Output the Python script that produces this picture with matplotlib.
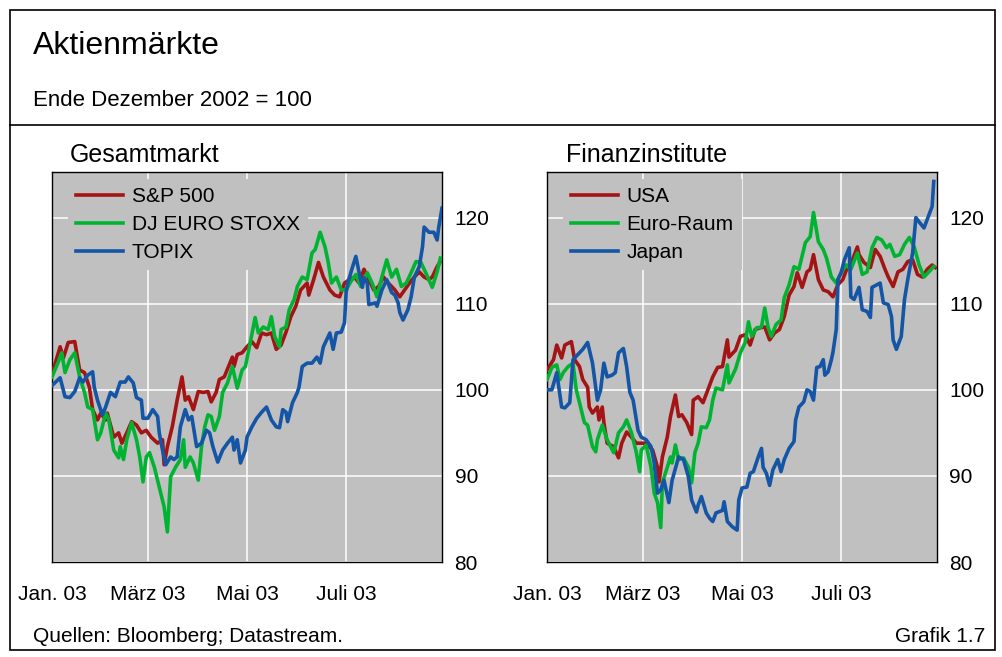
import numpy as np
import matplotlib.pyplot as plt
from matplotlib.patches import Rectangle
from matplotlib.lines import Line2D

plt.rcParams['font.family'] = ['Liberation Sans', 'DejaVu Sans']

# index values, end of December 2002 = 100; days counted from 1 Jan 2003
spx_days = [0, 5, 7, 10, 14, 17, 20, 23, 25, 28, 30, 33, 34, 38, 41, 43, 46, 49, 52, 55,
            58, 61, 65, 68, 69, 71, 74, 77, 80, 82, 84, 87, 90, 93, 96, 98, 101, 103, 106, 111,
            112, 114, 117, 120, 123, 126, 129, 132, 135, 138, 141, 144, 147, 150, 153, 157, 158, 161, 164, 167,
            171, 174, 177, 180, 183, 186, 189, 192, 195, 198, 201, 204, 207, 211, 214, 217, 220, 223, 226, 229,
            232, 234, 237, 239]
spx_vals = [101.8, 105.0, 103.7, 105.5, 105.6, 102.3, 102.0, 100.3, 97.7, 96.5, 97.3, 96.5, 97.3, 94.5, 95.0, 93.8, 95.0, 96.3, 95.9, 95.0,
            95.3, 94.5, 93.8, 94.2, 91.3, 93.4, 95.7, 98.8, 101.5, 98.8, 99.2, 97.7, 99.8, 99.7, 99.8, 98.6, 99.7, 101.2, 101.5, 103.8,
            102.7, 104.1, 104.3, 105.0, 105.6, 104.9, 106.6, 106.4, 106.6, 104.7, 105.2, 106.7, 108.5, 109.7, 111.6, 112.4, 111.0, 112.8, 114.8, 113.1,
            111.6, 111.0, 110.8, 112.4, 112.8, 113.1, 112.4, 114.0, 112.8, 111.6, 112.0, 113.1, 112.4, 111.6, 110.8, 111.6, 112.4, 113.1, 113.7, 113.1,
            112.8, 113.1, 114.3, 114.9]

stoxx_days = [0, 4, 6, 8, 11, 14, 17, 20, 22, 25, 28, 30, 33, 35, 38, 41, 42, 44, 46, 49,
              52, 54, 56, 58, 60, 63, 66, 69, 71, 73, 76, 79, 81, 82, 85, 87, 90, 92, 94, 96,
              98, 100, 103, 105, 108, 111, 114, 117, 119, 122, 125, 127, 130, 133, 135, 137, 140, 141, 144, 146,
              149, 151, 154, 157, 160, 162, 165, 168, 170, 172, 175, 178, 181, 184, 187, 190, 194, 197, 200, 203,
              206, 209, 212, 215, 218, 221, 224, 227, 230, 234, 237, 239]
stoxx_vals = [101.5, 103.3, 104.3, 102.0, 103.5, 104.3, 101.5, 99.7, 98.0, 97.7, 94.2, 95.0, 97.3, 96.5, 93.0, 92.1, 93.4, 91.9, 94.2, 96.2,
              94.2, 92.2, 89.3, 92.2, 92.7, 91.0, 88.7, 86.4, 83.5, 89.9, 91.0, 91.9, 94.2, 91.0, 92.2, 91.5, 89.5, 93.4, 95.7, 97.1,
              96.9, 95.3, 96.9, 99.7, 100.8, 102.7, 100.2, 102.3, 102.7, 105.5, 108.4, 106.6, 107.3, 107.0, 108.5, 106.2, 105.0, 107.0, 107.3, 109.3,
              110.5, 112.0, 113.1, 112.8, 115.9, 116.3, 118.3, 116.6, 114.8, 112.4, 113.1, 111.6, 111.6, 112.6, 113.4, 112.0, 113.6, 112.4, 110.8, 113.1,
              115.1, 113.1, 114.0, 112.0, 112.4, 113.6, 114.9, 114.8, 113.6, 111.9, 113.7, 115.3]

topix_days = [0, 5, 8, 11, 14, 17, 19, 22, 25, 26, 28, 31, 33, 36, 39, 42, 45, 47, 50, 52,
              55, 56, 59, 62, 65, 66, 68, 70, 73, 75, 77, 79, 82, 84, 86, 89, 92, 95, 97, 99,
              102, 105, 108, 111, 112, 114, 116, 119, 120, 123, 126, 129, 132, 135, 138, 140, 142, 144, 145, 148,
              151, 152, 154, 157, 160, 163, 165, 167, 169, 171, 173, 175, 178, 180, 181, 182, 185, 187, 189, 191,
              192, 194, 195, 199, 200, 203, 206, 209, 211, 213, 214, 216, 219, 221, 223, 226, 228, 229, 232, 235,
              237, 238, 240]
topix_vals = [100.5, 101.4, 99.2, 99.1, 99.8, 101.4, 100.9, 101.7, 102.1, 100.3, 98.8, 97.1, 98.0, 99.7, 99.2, 100.9, 100.9, 101.5, 100.8, 99.1,
              98.8, 96.7, 96.7, 97.7, 96.9, 95.0, 93.0, 91.3, 92.2, 91.9, 92.2, 95.7, 97.7, 96.5, 96.9, 93.4, 93.8, 95.3, 95.0, 93.4,
              91.6, 93.0, 93.8, 94.5, 93.0, 94.2, 91.5, 93.0, 94.5, 95.7, 96.7, 97.4, 98.0, 96.5, 95.7, 95.6, 97.7, 97.4, 96.3, 98.5,
              99.7, 100.3, 102.7, 103.1, 103.1, 103.8, 103.1, 105.0, 105.8, 106.6, 104.7, 106.6, 106.7, 107.8, 111.3, 112.4, 114.3, 115.5, 113.6, 111.9,
              113.0, 112.4, 109.9, 110.1, 109.7, 111.6, 112.8, 111.3, 111.0, 110.1, 109.0, 108.1, 109.3, 110.8, 113.1, 114.3, 116.6, 118.9, 118.3, 118.3,
              117.4, 118.9, 121.1]

usa_days = [0, 4, 6, 9, 11, 15, 17, 20, 22, 25, 26, 28, 31, 32, 34, 35, 37, 41, 44, 46,
            49, 52, 55, 58, 61, 65, 68, 69, 71, 74, 76, 79, 81, 83, 86, 89, 90, 93, 96, 99,
            102, 105, 108, 111, 112, 116, 119, 122, 125, 128, 131, 134, 137, 140, 143, 146, 149, 152, 154, 157,
            160, 162, 164, 167, 170, 173, 176, 179, 182, 185, 188, 191, 192, 195, 199, 202, 205, 208, 210, 213,
            216, 219, 222, 225, 228, 231, 234, 237, 239]
usa_vals = [102.3, 103.5, 105.2, 103.7, 105.2, 105.6, 103.5, 102.7, 101.2, 100.3, 98.0, 97.3, 98.0, 96.5, 98.0, 96.2, 93.8, 93.4, 92.1, 93.8,
            95.1, 94.5, 93.8, 93.8, 93.8, 93.0, 91.0, 89.3, 92.2, 94.5, 96.9, 99.4, 96.9, 97.1, 96.2, 94.8, 98.8, 99.2, 98.5, 100.0,
            101.5, 102.6, 102.7, 105.8, 103.8, 104.6, 106.2, 106.4, 105.2, 107.0, 107.2, 107.3, 105.8, 106.6, 107.0, 108.5, 111.0, 112.0, 113.6, 111.9,
            113.7, 114.0, 115.7, 112.8, 111.6, 111.4, 110.8, 112.2, 112.8, 114.3, 115.1, 116.6, 115.7, 114.8, 114.2, 116.3, 115.5, 114.0, 113.1, 112.0,
            113.7, 114.0, 114.9, 115.1, 113.4, 113.1, 114.0, 114.5, 114.2]

euro_days = [0, 3, 6, 8, 10, 13, 16, 18, 20, 23, 25, 28, 30, 31, 34, 37, 41, 42, 44, 47,
             49, 52, 55, 57, 58, 61, 64, 66, 68, 70, 71, 74, 76, 77, 79, 81, 84, 87, 89, 91,
             93, 95, 98, 100, 102, 104, 108, 111, 112, 116, 119, 122, 124, 126, 129, 132, 134, 136, 138, 141,
             144, 146, 149, 152, 155, 159, 162, 164, 167, 170, 172, 175, 178, 181, 184, 187, 191, 194, 197, 200,
             203, 206, 209, 211, 214, 217, 220, 223, 226, 229, 232, 235, 238]
euro_vals = [101.2, 102.6, 102.9, 101.2, 102.0, 102.7, 103.1, 100.0, 98.5, 96.2, 95.9, 93.4, 92.8, 94.2, 95.9, 94.2, 92.7, 93.4, 95.0, 95.7,
             96.5, 95.0, 92.7, 90.5, 93.0, 93.6, 91.0, 88.0, 86.9, 84.0, 89.2, 91.0, 92.2, 91.5, 93.6, 91.9, 92.1, 91.0, 89.2, 92.7,
             93.8, 95.7, 95.6, 96.5, 98.8, 100.2, 100.0, 102.9, 100.8, 102.4, 104.3, 105.5, 107.9, 106.2, 107.2, 107.3, 109.5, 107.3, 106.2, 107.6,
             108.1, 110.7, 112.2, 114.3, 114.0, 117.1, 117.8, 120.6, 117.2, 116.3, 115.3, 113.1, 112.4, 113.6, 114.5, 114.0, 115.9, 113.4, 113.7, 116.5,
             117.7, 117.4, 116.5, 116.9, 115.5, 115.7, 116.9, 117.7, 116.6, 114.5, 113.1, 113.7, 114.3]

japan_days = [0, 3, 6, 9, 11, 14, 16, 19, 22, 25, 28, 31, 33, 35, 37, 40, 42, 44, 47, 49,
              51, 53, 56, 58, 61, 64, 66, 68, 70, 72, 75, 77, 81, 84, 87, 89, 92, 93, 95, 98,
              100, 102, 104, 108, 109, 111, 114, 117, 118, 120, 123, 125, 127, 130, 132, 133, 135, 137, 139, 142,
              144, 146, 149, 152, 153, 155, 158, 160, 162, 164, 166, 168, 170, 171, 173, 175, 176, 178, 179, 181,
              183, 186, 187, 189, 192, 194, 197, 199, 200, 203, 205, 207, 210, 212, 213, 215, 218, 220, 222, 225,
              227, 229, 232, 234, 237, 238]
japan_vals = [100.0, 100.0, 102.0, 98.0, 97.9, 98.5, 103.5, 104.1, 104.7, 105.5, 103.1, 98.8, 100.0, 103.1, 101.5, 101.7, 102.0, 104.3, 104.8, 102.7,
              99.7, 98.8, 95.3, 94.5, 94.2, 93.4, 91.5, 88.0, 88.4, 89.5, 86.9, 89.5, 92.2, 91.9, 89.9, 87.2, 85.8, 86.6, 87.6, 85.7,
              85.1, 84.7, 85.7, 86.0, 87.0, 84.7, 84.1, 83.7, 87.2, 88.6, 88.7, 90.3, 90.5, 92.2, 93.2, 91.0, 90.3, 88.9, 90.7, 91.9,
              90.5, 91.9, 93.2, 94.0, 96.5, 98.0, 98.6, 100.0, 99.8, 98.8, 102.6, 102.7, 103.5, 101.7, 102.1, 103.5, 104.4, 107.0, 112.8, 113.6,
              115.1, 116.5, 110.8, 110.5, 111.9, 109.3, 109.1, 108.4, 111.9, 112.2, 112.4, 110.1, 109.9, 108.5, 105.8, 104.7, 106.2, 110.5, 112.8, 115.9,
              120.0, 119.5, 118.8, 119.8, 121.3, 124.2]

month_days = [0, 59, 120, 181]
month_labels = ['Jan. 03', 'März 03', 'Mai 03', 'Juli 03']
colors = ['#a51414', '#00b432', '#1455a5']
W, H = 1002, 657


def to_dates(days):
    return np.datetime64('2003-01-01') + np.array(days).astype('timedelta64[D]')


def draw_panel(ax, series, labels):
    ax.set_facecolor('#c0c0c0')
    for (d, v), c, lab in zip(series, colors, labels):
        ax.plot(to_dates(d), v, color=c, lw=2.6, label=lab, zorder=3)
    ax.set_xlim(np.datetime64('2003-01-01'), np.datetime64('2003-08-29'))
    ax.set_ylim(80, 125.3)
    ax.set_yticks([80, 90, 100, 110, 120])
    ax.yaxis.tick_right()
    ax.set_xticks(to_dates(month_days))
    ax.set_xticklabels(month_labels)
    ax.tick_params(axis='x', length=0, labelsize=15, pad=16.5)
    ax.tick_params(axis='y', length=0, labelsize=15, pad=9)
    ax.grid(color='white', lw=1.1)
    ax.set_axisbelow(True)
    for s in ax.spines.values():
        s.set_color('black')
        s.set_linewidth(1.0)
    leg = ax.legend(loc='upper left', bbox_to_anchor=(16 / 390, 1 - 7 / 390), borderaxespad=0,
                    frameon=True, facecolor='#c0c0c0', edgecolor='none', framealpha=1, fancybox=False,
                    fontsize=15, handlelength=2.25, handletextpad=0.4, labelspacing=0.42, borderpad=0.4)
    # legend box covers the grid, but not the data lines
    leg.set_zorder(2)


fig = plt.figure(figsize=(10.02, 6.57), dpi=100)

ax1 = fig.add_axes([52 / W, 1 - 562 / H, 390 / W, 390 / H])
draw_panel(ax1, [(spx_days, spx_vals), (stoxx_days, stoxx_vals), (topix_days, topix_vals)],
           ['S&P 500', 'DJ EURO STOXX', 'TOPIX'])
ax2 = fig.add_axes([547 / W, 1 - 562 / H, 390 / W, 390 / H])
draw_panel(ax2, [(usa_days, usa_vals), (euro_days, euro_vals), (japan_days, japan_vals)],
           ['USA', 'Euro-Raum', 'Japan'])

# frame and header
fig.add_artist(Rectangle((10 / W, 1 - 650 / H), 985 / W, 640 / H, transform=fig.transFigure,
                         fill=False, ec='black', lw=1.2))
fig.add_artist(Line2D([10 / W, 995 / W], [1 - 125 / H, 1 - 125 / H], transform=fig.transFigure,
                      color='black', lw=1.2))

fig.text(33 / W, 1 - 46 / H, 'Aktienmärkte', fontsize=23, va='center')
fig.text(33 / W, 1 - 100 / H, 'Ende Dezember 2002 = 100', fontsize=16, va='center')
fig.text(70 / W, 1 - 155 / H, 'Gesamtmarkt', fontsize=18, va='center')
fig.text(566 / W, 1 - 155 / H, 'Finanzinstitute', fontsize=18, va='center')
fig.text(33 / W, 1 - 637 / H, 'Quellen: Bloomberg; Datastream.', fontsize=15, va='center')
fig.text(985 / W, 1 - 637 / H, 'Grafik 1.7', fontsize=15, va='center', ha='right')

fig.savefig('out.png', dpi=100)
